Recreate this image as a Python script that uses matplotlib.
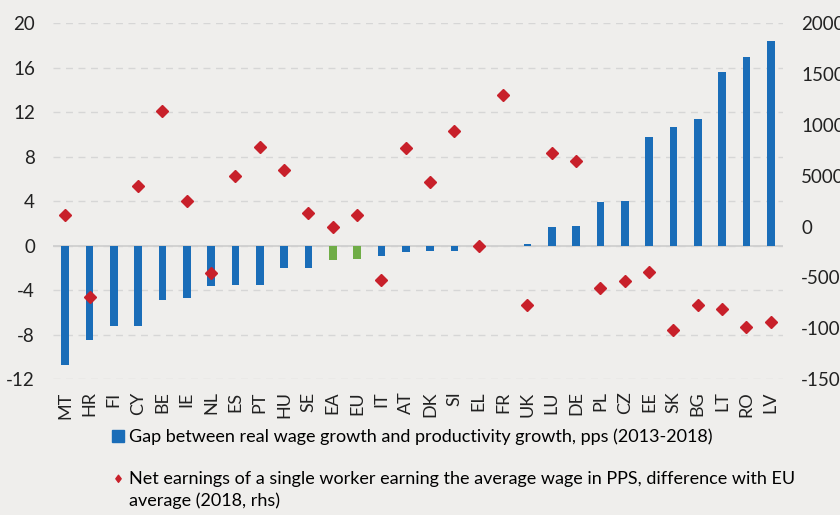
import matplotlib
matplotlib.use("Agg")
import matplotlib.pyplot as plt
from matplotlib.lines import Line2D
from matplotlib.path import Path
import numpy as np

plt.rcParams['font.family'] = ['Lato', 'DejaVu Sans']
plt.rcParams['axes.unicode_minus'] = False

countries = ["MT", "HR", "FI", "CY", "BE", "IE", "NL", "ES", "PT", "HU", "SE", "EA", "EU", "IT", "AT",
             "DK", "SI", "EL", "FR", "UK", "LU", "DE", "PL", "CZ", "EE", "SK", "BG", "LT", "RO", "LV"]
# gap between real wage growth and productivity growth, pps (left axis)
wage_gap = [-10.7, -8.5, -7.25, -7.2, -4.9, -4.7, -3.65, -3.5, -3.5, -2.0, -2.0, -1.3, -1.2, -0.95, -0.55,
            -0.5, -0.5, -0.3, 0.0, 0.18, 1.7, 1.8, 3.9, 4.0, 9.8, 10.7, 11.4, 15.6, 17.0, 18.4]
# net earnings difference with EU average, PPS (right axis); FI has no value
net_earn = [1100, -6900, np.nan, 4000, 11400, 2500, -4600, 5000, 7850, 5550, 1300, -50, 1100, -5250, 7750,
            4400, 9400, -1900, 12900, -7750, 7200, 6450, -6000, -5350, -4450, -10200, -7700, -8100, -9850, -9400]
aggregates = ["EA", "EU"]

blue = "#1a6db8"
green = "#70ad47"
red = "#c8202a"
bg = "#efeeec"

fig = plt.figure(figsize=(8.4, 5.15), dpi=100, facecolor=bg)
ax = fig.add_axes([0.0631, 0.2641, 0.869, 0.6907])
ax.set_facecolor(bg)

x = np.arange(len(countries))
colors = [green if c in aggregates else blue for c in countries]
ax.bar(x, wage_gap, width=0.32, color=colors, zorder=3)

ax.set_xlim(-0.5, len(countries) - 0.5)
ax.set_ylim(-12, 20)
ax.set_yticks(np.arange(-12, 21, 4))
ax.grid(axis="y", color="#d6d6d6", linestyle=(0, (5, 4)), linewidth=1.0, zorder=0)
ax.axhline(0, color="#cfcfcf", linewidth=1.3, zorder=2)
for s in ax.spines.values():
    s.set_visible(False)
ax.set_xticks(x)
ax.set_xticklabels(countries, rotation=90, fontsize=13, color="#222222")
ax.tick_params(axis="y", length=0, pad=13, labelsize=13.5, labelcolor="#222222")
ax.tick_params(axis="x", length=0, pad=9)

ax2 = ax.twinx()
ax2.plot(x, net_earn, linestyle="none", marker="D", markersize=6, color=red, zorder=4)
ax2.set_ylim(-15000, 20000)
ax2.set_yticks(np.arange(-15000, 20001, 5000))
for s in ax2.spines.values():
    s.set_visible(False)
ax2.tick_params(axis="y", length=0, pad=13, labelsize=13.5, labelcolor="#222222")

# legend diamond raised so it sits on the first line of a two-line label
d = 3.3
raised_diamond = Path([(0, d - 1), (0.75, d), (0, d + 1), (-0.75, d), (0, d - 1)],
                      [Path.MOVETO, Path.LINETO, Path.LINETO, Path.LINETO, Path.CLOSEPOLY])
handles = [Line2D([], [], linestyle="none", marker="s", markersize=8, color=blue),
           Line2D([], [], linestyle="none", marker=raised_diamond, markersize=22, color=red)]
labels = ["Gap between real wage growth and productivity growth, pps (2013-2018)",
          "Net earnings of a single worker earning the average wage in PPS, difference with EU\naverage (2018, rhs)"]
leg = fig.legend(handles, labels, loc="upper left", bbox_to_anchor=(0.134, 0.168), frameon=False,
                 fontsize=13, handlelength=0.6, handletextpad=0.3, labelspacing=1.45, borderaxespad=0,
                 borderpad=0)
leg.get_texts()[1].set_linespacing(1.4)

fig.savefig("out.png", dpi=100, facecolor=bg)
